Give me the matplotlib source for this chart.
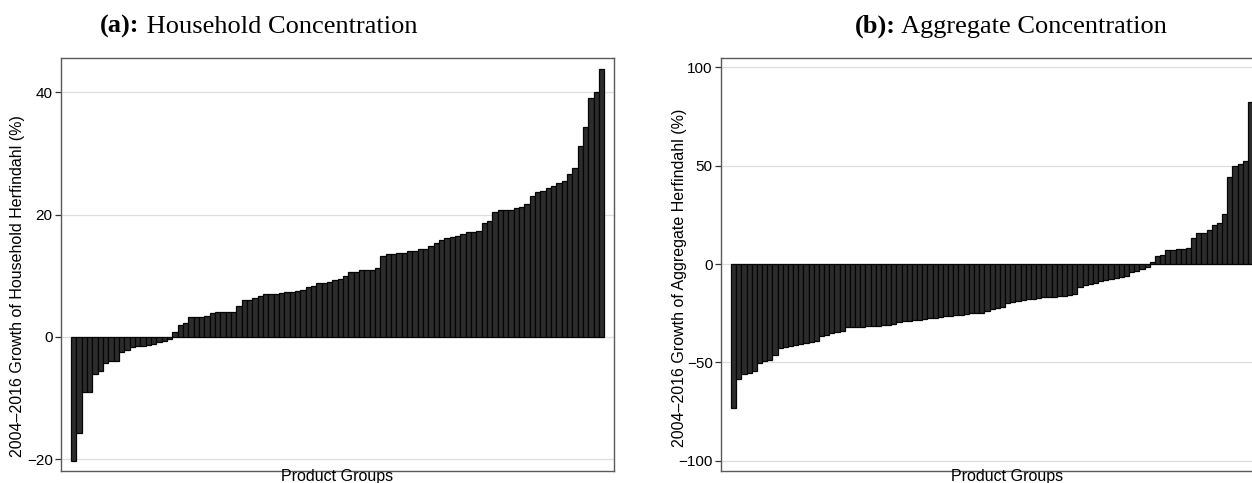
import numpy as np
import matplotlib
matplotlib.use("Agg")
import matplotlib.pyplot as plt
from matplotlib.text import Annotation

# Growth of the household-level Herfindahl index, product groups sorted ascending (%)
household_growth = [
    -20.2, -15.7, -9.05, -9.05, -6.05, -5.5, -4.3, -4.0, -4.0, -2.45,
    -2.2, -1.7, -1.5, -1.45, -1.25, -1.2, -0.87, -0.6, -0.33, 0.8,
    2.0, 2.35, 3.2, 3.2, 3.3, 3.5, 3.9, 4.0, 4.1, 4.1,
    4.1, 5.1, 6.0, 6.0, 6.3, 6.75, 7.0, 7.1, 7.1, 7.2,
    7.3, 7.4, 7.5, 7.7, 8.2, 8.4, 8.8, 8.9, 9.0, 9.3,
    9.4, 9.9, 10.7, 10.7, 10.9, 10.9, 11.0, 11.2, 13.3, 13.5,
    13.6, 13.8, 13.8, 14.0, 14.1, 14.3, 14.3, 14.9, 15.3, 15.8,
    16.2, 16.4, 16.5, 16.9, 17.1, 17.1, 17.4, 18.7, 19.0, 20.5,
    20.7, 20.8, 20.8, 21.0, 21.2, 21.7, 23.0, 23.75, 23.9, 24.3,
    24.6, 25.2, 25.5, 26.7, 27.6, 31.25, 34.3, 39.1, 40.05, 43.75,
]

# Growth of the aggregate Herfindahl index, product groups sorted ascending (%)
aggregate_growth = [
    -73.2, -58.6, -56.1, -55.6, -54.6, -50.4, -49.4, -48.9, -46.2, -42.9,
    -42.2, -41.5, -41.0, -40.6, -40.2, -39.7, -39.1, -36.6, -36.0, -35.3,
    -34.6, -34.0, -32.2, -32.0, -31.9, -31.9, -31.6, -31.4, -31.4, -31.2,
    -30.8, -30.3, -29.3, -29.1, -28.8, -28.6, -28.3, -27.9, -27.5, -27.2,
    -26.7, -26.4, -26.2, -25.9, -25.7, -25.4, -25.1, -24.9, -24.7, -23.8,
    -23.1, -22.6, -21.9, -20.0, -19.2, -18.7, -18.4, -18.0, -17.9, -17.5,
    -17.0, -16.7, -16.7, -16.5, -16.2, -15.6, -15.0, -11.7, -10.7, -10.2,
    -9.4, -8.5, -8.2, -7.7, -7.0, -6.5, -6.3, -3.9, -3.4, -2.4,
    -1.5, 0.85, 4.3, 4.8, 7.1, 7.1, 7.4, 7.8, 8.2, 13.1,
    16.0, 16.0, 17.3, 19.7, 21.0, 25.3, 44.2, 49.8, 50.8, 52.4,
    82.5,
]

household_yticks = [-20, 0, 20, 40]
aggregate_yticks = [-100, -50, 0, 50, 100]

panel_tags = ["(a):", "(b):"]
panel_titles = [" Household Concentration", " Aggregate Concentration"]
ylabels = [
    "2004\u20132016 Growth of Household Herfindahl (%)",
    "2004\u20132016 Growth of Aggregate Herfindahl (%)",
]
xlabel = "Product Groups"

W, H = 1252, 483
plt.rcParams["font.family"] = ["Liberation Sans", "DejaVu Sans"]
fig = plt.figure(figsize=(W / 100, H / 100), dpi=100)


def add_px_axes(left, top, right, bottom):
    return fig.add_axes([left / W, 1 - bottom / H, (right - left) / W, (bottom - top) / H])


BAR_FACE = "#2c2c2c"
BAR_EDGE = "#050505"
FRAME = "#5a5a5a"
GRID = "#dedede"


def draw_panel(ax, values, yticks, ylim, bar_px, pad_px, ax_px):
    n = len(values)
    x = np.arange(n)
    ax.bar(x, values, width=1.0, color=BAR_FACE, edgecolor=BAR_EDGE,
           linewidth=0.9, zorder=2)
    x0 = -0.5 - pad_px / bar_px
    ax.set_xlim(x0, x0 + ax_px / bar_px)
    ax.set_ylim(*ylim)
    ax.set_yticks(yticks)
    ax.set_xticks([])
    ax.yaxis.grid(True, color=GRID, linewidth=0.9, zorder=0)
    ax.set_axisbelow(True)
    ax.tick_params(axis="y", direction="out", length=4, width=0.9,
                   color="#333333", labelsize=11, pad=2, labelcolor="black")
    for s in ax.spines.values():
        s.set_color(FRAME)
        s.set_linewidth(1.0)


# Panel (a)
ax1 = add_px_axes(61, 58, 614, 470.7)
draw_panel(ax1, household_growth, household_yticks, (-21.86, 45.6),
           bar_px=5.333, pad_px=10, ax_px=553)

# Panel (b): its frame continues past the right edge of the canvas
ax2 = add_px_axes(721, 58, 1293, 471)
draw_panel(ax2, aggregate_growth, aggregate_yticks, (-105.2, 104.7),
           bar_px=5.17, pad_px=10, ax_px=572)

# Axis labels
fig.text(18 / W, 1 - 286 / H, ylabels[0], rotation=90, ha="center", va="center",
         fontsize=11.5)
fig.text(680 / W, 1 - 278 / H, ylabels[1], rotation=90, ha="center", va="center",
         fontsize=11.5)
fig.text(337 / W, 1 - 477 / H, xlabel, ha="center", va="center", fontsize=11.5)
fig.text(1007 / W, 1 - 477 / H, xlabel, ha="center", va="center", fontsize=11.5)

# Panel titles: bold tag followed by regular text
title_font = ["Liberation Serif", "DejaVu Serif"]
for x_start, tag, title in [(100, panel_tags[0], panel_titles[0]),
                            (855, panel_tags[1], panel_titles[1])]:
    t = fig.text(x_start / W, 1 - 33 / H, tag, ha="left", va="baseline",
                 fontsize=19, fontweight="bold", family=title_font)
    fig.add_artist(Annotation(title, xy=(1, 0), xycoords=t, va="bottom",
                              ha="left", fontsize=19, family=title_font))

fig.savefig("out.png", dpi=100)
